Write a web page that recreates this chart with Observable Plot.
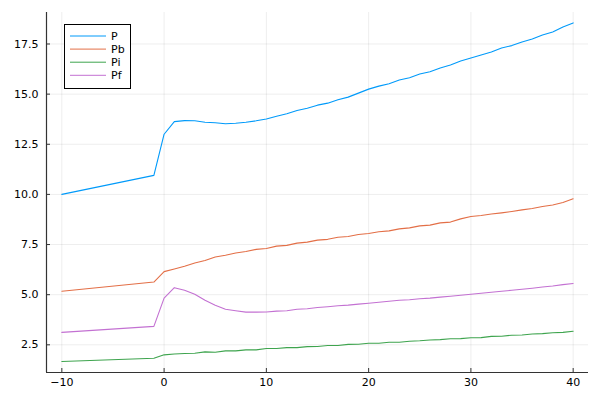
<!DOCTYPE html>
<html>
<head>
<meta charset="utf-8">
<script src="https://cdn.jsdelivr.net/npm/d3@7"></script>
<script src="https://cdn.jsdelivr.net/npm/@observablehq/plot@0.6"></script>
<style>
  body { margin: 0; background: #fff; }
  #chart { position: relative; width: 600px; height: 400px; }
</style>
</head>
<body>
<div id="chart"></div>
<script>
const xs = [-10, -1, 0, 1, 2, 3, 4, 5, 6, 7, 8, 9, 10, 11, 12, 13, 14, 15, 16, 17, 18, 19, 20,
  21, 22, 23, 24, 25, 26, 27, 28, 29, 30, 31, 32, 33, 34, 35, 36, 37, 38, 39, 40];
const P = [10.0, 10.95, 13.0, 13.63, 13.68, 13.67, 13.6, 13.57, 13.52, 13.55, 13.6, 13.67, 13.76,
  13.9, 14.02, 14.18, 14.3, 14.45, 14.55, 14.72, 14.85, 15.05, 15.25, 15.4, 15.52, 15.7, 15.82,
  16.0, 16.12, 16.3, 16.45, 16.65, 16.8, 16.95, 17.1, 17.3, 17.42, 17.6, 17.75, 17.95, 18.1, 18.35, 18.55];
const Pb = [5.17, 5.63, 6.15, 6.28, 6.42, 6.58, 6.7, 6.88, 6.97, 7.08, 7.15, 7.26, 7.3, 7.42, 7.46,
  7.57, 7.62, 7.72, 7.76, 7.86, 7.9, 8.0, 8.05, 8.14, 8.18, 8.28, 8.33, 8.43, 8.47, 8.58, 8.62,
  8.78, 8.9, 8.95, 9.02, 9.08, 9.15, 9.23, 9.3, 9.4, 9.47, 9.6, 9.78];
const Pi = [1.67, 1.83, 2.0, 2.04, 2.07, 2.08, 2.15, 2.13, 2.2, 2.2, 2.25, 2.25, 2.32, 2.32, 2.36,
  2.36, 2.41, 2.42, 2.47, 2.47, 2.52, 2.53, 2.58, 2.58, 2.63, 2.63, 2.68, 2.7, 2.74, 2.76, 2.8,
  2.81, 2.85, 2.86, 2.92, 2.93, 2.98, 2.99, 3.04, 3.06, 3.1, 3.12, 3.18];
const Pf = [3.12, 3.42, 4.83, 5.35, 5.22, 5.02, 4.72, 4.47, 4.27, 4.2, 4.13, 4.13, 4.14, 4.18, 4.2,
  4.27, 4.3, 4.36, 4.4, 4.45, 4.48, 4.53, 4.57, 4.62, 4.67, 4.72, 4.75, 4.8, 4.83, 4.88, 4.92,
  4.97, 5.02, 5.07, 5.12, 5.17, 5.22, 5.27, 5.32, 5.38, 5.43, 5.5, 5.56];
const seriesNames = ["P", "Pb", "Pi", "Pf"];
const seriesColors = ["#009AFA", "#E36F47", "#3EA44E", "#C371D2"];
const xTicks = [-10, 0, 10, 20, 30, 40];
const yTicks = [2.5, 5.0, 7.5, 10.0, 12.5, 15.0, 17.5];
const xDomain = [-11.5, 41.5];
const yDomain = [1.12, 19.07];

const values = [P, Pb, Pi, Pf];
const data = [];
seriesNames.forEach((name, s) => {
  xs.forEach((x, i) => data.push({ series: name, x, y: values[s][i] }));
});

const font = "DejaVu Sans, sans-serif";
const chart = Plot.plot({
  width: 600,
  height: 400,
  marginTop: 12,
  marginBottom: 28,
  marginLeft: 46,
  marginRight: 12,
  style: { fontFamily: font, fontSize: "11px", color: "#000", background: "#fff" },
  x: { domain: xDomain },
  y: { domain: yDomain },
  color: { domain: seriesNames, range: seriesColors },
  marks: [
    Plot.gridX(xTicks, { stroke: "#000", strokeOpacity: 0.07 }),
    Plot.gridY(yTicks, { stroke: "#000", strokeOpacity: 0.07 }),
    Plot.axisX(xTicks, { tickSize: 0, tickPadding: 6, label: null, fontSize: 11 }),
    Plot.axisY(yTicks, { tickSize: 0, tickPadding: 8, label: null, tickFormat: d3.format(".1f"), fontSize: 11 }),
    Plot.axisX(xTicks, { tickSize: -4, text: null, label: null, stroke: "#333" }),
    Plot.axisY(yTicks, { tickSize: -4, text: null, label: null, stroke: "#333" }),
    Plot.ruleX([xDomain[0]], { stroke: "#333", strokeWidth: 1.2 }),
    Plot.ruleY([yDomain[0]], { stroke: "#333", strokeWidth: 1.2 }),
    Plot.line(data, { x: "x", y: "y", z: "series", stroke: "series", strokeWidth: 1.1 })
  ]
});
document.getElementById("chart").appendChild(chart);

// Legend (box in the top-left of the plot area)
const svg = d3.select(chart);
const lg = svg.append("g").attr("font-family", font).attr("font-size", 11).attr("text-anchor", "start");
lg.append("rect").attr("x", 64.5).attr("y", 24.5).attr("width", 66).attr("height", 64)
  .attr("fill", "#fff").attr("stroke", "#000").attr("stroke-width", 1);
seriesNames.forEach((name, i) => {
  const y = 36 + i * 13.1;
  lg.append("line").attr("x1", 70).attr("x2", 106).attr("y1", y).attr("y2", y)
    .attr("stroke", seriesColors[i]).attr("stroke-width", 1);
  lg.append("text").attr("x", 111).attr("y", y).attr("dy", "0.35em")
    .attr("text-anchor", "start").attr("fill", "#000").text(name);
});
</script>
</body>
</html>
